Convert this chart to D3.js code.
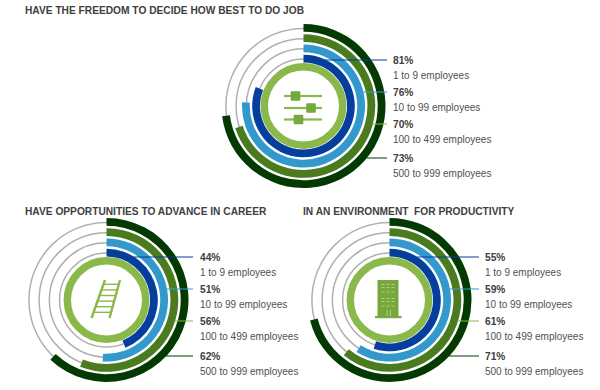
<!DOCTYPE html>
<html>
<head>
<meta charset="utf-8">
<script src="https://cdn.jsdelivr.net/npm/d3@7"></script>
<style>
body { margin: 0; background: #fff; }
text { font-family: "Liberation Sans", Arial, sans-serif; }
</style>
</head>
<body>
<script>
var w = 600;
var h = 390;

var sizes = ["1 to 9 employees", "10 to 99 employees", "100 to 499 employees", "500 to 999 employees"];
var titles = ["HAVE THE FREEDOM TO DECIDE HOW BEST TO DO JOB", "HAVE OPPORTUNITIES TO ADVANCE IN CAREER", "IN AN ENVIRONMENT  FOR PRODUCTIVITY"];
var freedom = [81, 76, 70, 73];
var career = [44, 51, 56, 62];
var productivity = [55, 59, 61, 71];

var bandColors = ["#053f9e", "#3399cc", "#4a7c1f", "#033a02"];
var lineColors = ["#053f9e", "#3399cc", "#8ab84a", "#033a02"];
var lightGreen = "#8ab84a";
var iconGreen = "#76a83c";

// where each chart sits on the page
var charts = [
    { values: freedom, title: titles[0], titleX: 25, titleY: 13.5, cx: 303.5, cy: 106, lineEnd: 387, textX: 393, rows: [60, 92, 124, 158], icon: sliders },
    { values: career, title: titles[1], titleX: 25, titleY: 215, cx: 106.5, cy: 300, lineEnd: 193, textX: 200, rows: [257, 289, 321, 356], icon: ladder },
    { values: productivity, title: titles[2], titleX: 303, titleY: 215, cx: 389.5, cy: 300, lineEnd: 479, textX: 485, rows: [257, 289, 321, 356], icon: building }
];

var angle = d3.scaleLinear().domain([0, 100]).range([0, 2 * Math.PI]);
var inner = d3.scaleLinear().domain([0, 3]).range([43.5, 74.2]);
var thickness = 7.8;

var svg = d3.select("body")
    .append("svg")
    .attr("width", w)
    .attr("height", h);

charts.forEach(c => {
    var g = svg.append("g");

    g.append("text")
        .attr("x", c.titleX)
        .attr("y", c.titleY)
        .attr("font-size", 10.2)
        .attr("font-weight", "bold")
        .attr("fill", "#404040")
        .style("white-space", "pre")
        .text(c.title);

    var pie = g.append("g").attr("transform", `translate(${c.cx},${c.cy})`);

    // grey tracks
    pie.selectAll(".track")
        .data(c.values)
        .enter()
        .append("circle")
        .attr("class", "track")
        .attr("r", (d, i) => inner(i) + thickness / 2 - 0.5)
        .attr("fill", "none")
        .attr("stroke", "#b0b0b0")
        .attr("stroke-width", 1.5);

    var arc = d3.arc()
        .startAngle(0)
        .endAngle(d => angle(d.value))
        .innerRadius(d => inner(d.i))
        .outerRadius(d => inner(d.i) + thickness);

    pie.selectAll(".band")
        .data(c.values.map((value, i) => ({ value, i })))
        .enter()
        .append("path")
        .attr("class", "band")
        .attr("d", arc)
        .attr("fill", d => bandColors[d.i]);

    pie.append("circle")
        .attr("r", 39.2)
        .attr("fill", "#fff")
        .attr("stroke", lightGreen)
        .attr("stroke-width", 7.4);

    c.icon(pie);

    // leader lines start on the outer edge of their own band
    g.selectAll(".leader")
        .data(c.rows)
        .enter()
        .append("line")
        .attr("class", "leader")
        .attr("x1", (y, i) => {
            var r = inner(i) + thickness - 0.5;
            var dy = y - c.cy;
            return c.cx + Math.sqrt(r * r - dy * dy);
        })
        .attr("x2", c.lineEnd)
        .attr("y1", y => y)
        .attr("y2", y => y)
        .attr("stroke", (y, i) => lineColors[i])
        .attr("stroke-width", 1);

    g.selectAll(".pct")
        .data(c.values)
        .enter()
        .append("text")
        .attr("class", "pct")
        .attr("x", c.textX)
        .attr("y", (d, i) => c.rows[i] + 4)
        .attr("font-size", 10.2)
        .attr("font-weight", "bold")
        .attr("fill", "#404040")
        .text(d => d + "%");

    g.selectAll(".size")
        .data(sizes)
        .enter()
        .append("text")
        .attr("class", "size")
        .attr("x", c.textX)
        .attr("y", (d, i) => c.rows[i] + 19)
        .attr("font-size", 10)
        .attr("fill", "#505050")
        .text(d => d);
});

function sliders(g) {
    [[-10, -8], [2, 7.5], [13.5, -5]].forEach(r => {
        g.append("rect").attr("x", -19.5).attr("y", r[0] - 1.1).attr("width", 38).attr("height", 2.2).attr("fill", lightGreen);
        g.append("rect").attr("x", r[1] - 4.8).attr("y", r[0] - 4.8).attr("width", 9.6).attr("height", 9.6).attr("rx", 1).attr("fill", iconGreen);
    });
}

function ladder(g) {
    var a = g.append("g").attr("stroke", lightGreen).attr("fill", "none");
    a.append("line").attr("x1", -15).attr("y1", 18).attr("x2", -1.5).attr("y2", -20).attr("stroke-width", 2.4);
    a.append("line").attr("x1", 3).attr("y1", 18).attr("x2", 13.5).attr("y2", -20).attr("stroke-width", 2.4);
    d3.range(6).forEach(i => {
        var y = -15.7 + i * 5.6;
        var t = (y + 20) / 38;
        a.append("line")
            .attr("x1", -1.5 - 13.5 * t)
            .attr("x2", 13.5 - 10.5 * t)
            .attr("y1", y)
            .attr("y2", y)
            .attr("stroke-width", 1.4);
    });
}

function building(g) {
    g.append("rect").attr("x", -12).attr("y", -20).attr("width", 21).attr("height", 37).attr("fill", iconGreen);
    g.append("rect").attr("x", -14.5).attr("y", 16).attr("width", 26.5).attr("height", 2.2).attr("fill", iconGreen);
    [-16, -13, -8.5, -2, 1, 5.5].forEach(y => {
        [-8, -3, 2].forEach(x => {
            g.append("rect").attr("x", x).attr("y", y).attr("width", 3).attr("height", 0.9).attr("fill", "#b5d191");
        });
    });
    [-2.8, 0.5].forEach(x => {
        g.append("rect").attr("x", x).attr("y", 10).attr("width", 0.9).attr("height", 6).attr("fill", "#b5d191");
    });
}
</script>
</body>
</html>
